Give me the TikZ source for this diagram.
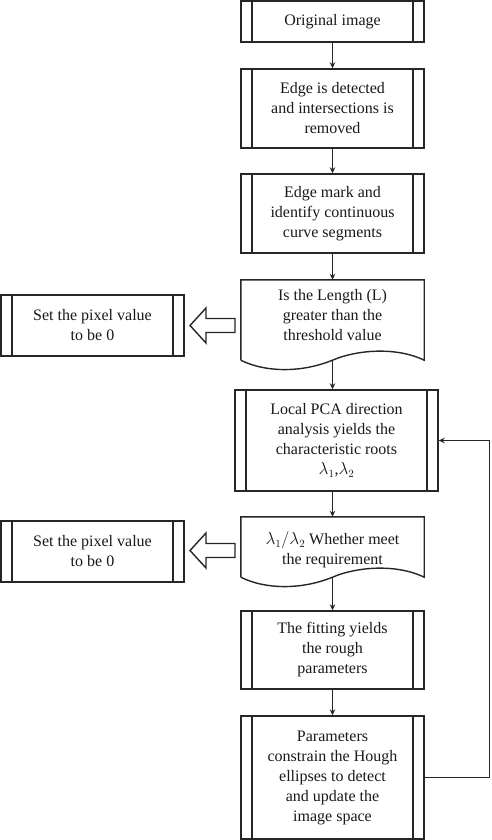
\documentclass[tikz,border=0pt]{standalone}
\usepackage{fontspec}
\setmainfont{Liberation Serif}
\usetikzlibrary{arrows.meta}
\begin{document}
\begin{tikzpicture}[x=1pt,y=-1pt]
\tikzset{
  lw/.style={line width=1.4pt, draw=black!85},
  txt/.style={font=\fontsize{16}{20}\selectfont, align=center, text=black!90},
  proc/.style={lw, txt, rectangle, inner sep=0pt, minimum width=183pt, minimum height=79pt,
    path picture={
      \draw[lw] ([xshift=11pt]path picture bounding box.north west) -- ([xshift=11pt]path picture bounding box.south west);
      \draw[lw] ([xshift=-11pt]path picture bounding box.north east) -- ([xshift=-11pt]path picture bounding box.south east);
    }},
  docbox/.style={rectangle, inner sep=0pt, minimum width=183pt},
  arr/.style={lw, -{Stealth[length=6pt,width=5.5pt]}},
  hollow/.style={lw, fill=white, line join=miter}
}
\useasboundingbox (0,0) rectangle (492,840);

% main column
\node[proc, minimum height=41pt] (n1) at (332.5,21.5) {Original image};
\node[proc] (n2) at (332.5,108.5) {Edge is detected\\and intersections is\\removed};
\node[proc] (n3) at (332.5,213.5) {Edge mark and\\identify continuous\\curve segments};

% decision 1 (document shape)
\node[docbox, minimum height=80pt] (d1) at (332.5,320) {};
\node[txt] (d1t) at ([yshift=-35pt]d1.north) {Is the Length (L)\\greater than the\\threshold value};
\draw[lw] (d1.south west) -- (d1.north west) -- (d1.north east) -- (d1.south east)
  .. controls +(-29,-14) and +(23,-10) .. (d1.south)
  .. controls +(-32,13) and +(24,12) .. (d1.south west);

\node[proc, minimum width=203pt, minimum height=101pt] (n4) at (336.5,440.5)
  {Local PCA direction\\analysis yields the\\characteristic roots\\$\lambda_1$,$\lambda_2$};

% decision 2 (document shape)
\node[docbox, minimum height=60pt] (d2) at (332.5,547) {};
\node[txt] (d2t) at ([yshift=-33pt]d2.north) {$\lambda_1/\lambda_2$ Whether meet\\the requirement};
\draw[lw] (d2.south west) -- (d2.north west) -- (d2.north east) -- (d2.south east)
  .. controls +(-29,-14) and +(23,-10) .. (d2.south)
  .. controls +(-32,13) and +(24,12) .. (d2.south west);

\node[proc, minimum height=78pt] (n6) at (332.5,650) {The fitting yields\\the rough\\parameters};
\node[proc, minimum height=123pt] (n7) at (332.5,777.5)
  {Parameters\\constrain the Hough\\ellipses to detect\\and update the\\image space};

% side boxes
\node[proc, minimum height=61pt] (s1) at (92.5,325.5) {Set the pixel value\\to be 0};
\node[proc, minimum height=61pt] (s2) at (92.5,551.5) {Set the pixel value\\to be 0};

% hollow arrows
\draw[hollow] (235,318.5) -- (206,318.5) -- (206,308) -- (190,325.5) -- (206,343) -- (206,332.5) -- (235,332.5) -- cycle;
\draw[hollow] (235,543.5) -- (206,543.5) -- (206,533) -- (190,550.5) -- (206,568) -- (206,557.5) -- (235,557.5) -- cycle;

% connectors
\draw[arr] (n1) -- (n2);
\draw[arr] (n2) -- (n3);
\draw[arr] (n3) -- (d1);
\draw[arr] (d1.south) -- (d1.south |- n4.north);
\draw[arr] (n4.south -| d2.north) -- (d2.north);
\draw[arr] (d2.south) -- (n6.north);
\draw[arr] (n6) -- (n7);
\draw[arr] (n7.east) -- ++(65,0) |- (n4.east);
\end{tikzpicture}
\end{document}
